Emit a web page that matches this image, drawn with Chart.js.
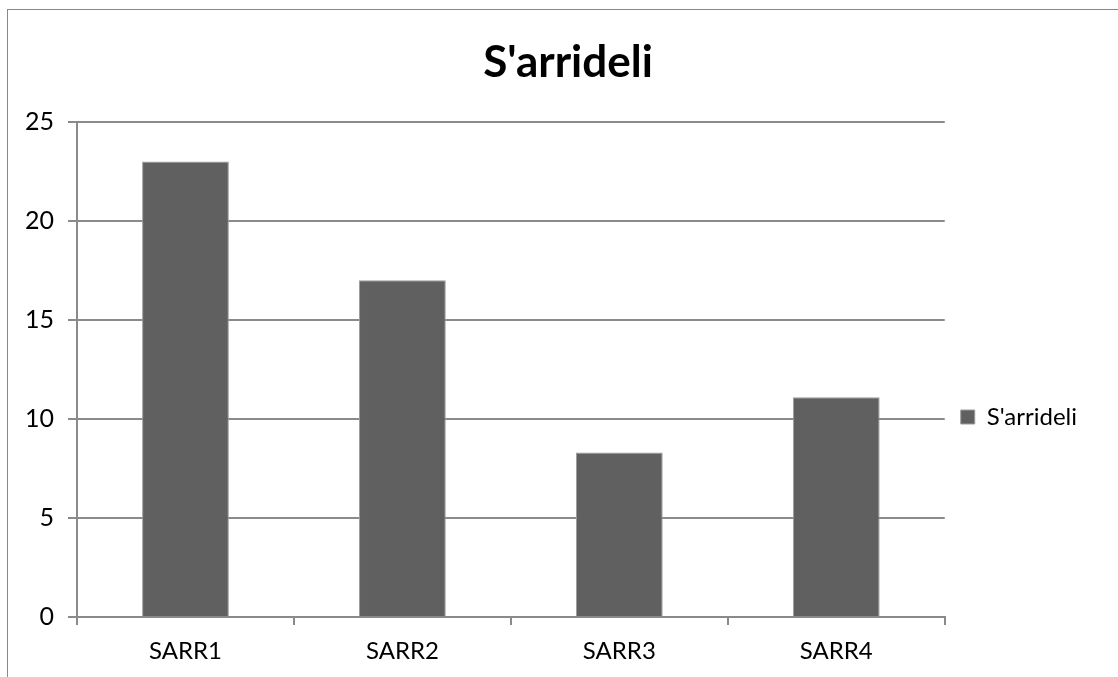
<!DOCTYPE html>
<html>
<head>
<meta charset="utf-8">
<title>S'arrideli</title>
<script src="https://cdn.jsdelivr.net/npm/chart.js@4.4.1/dist/chart.umd.min.js"></script>
<style>
  html, body { margin: 0; padding: 0; background: #fff; }
  #wrap { position: relative; width: 1118px; height: 677px; overflow: hidden; }
  /* outer chart frame, runs off the right and bottom edges */
  #frame { position: absolute; left: 7px; top: 9px; width: 1200px; height: 800px; border: 1.5px solid #898989; }
  #chart { position: absolute; left: 0; top: 0; }
</style>
</head>
<body>
<div id="wrap">
  <div id="frame"></div>
  <canvas id="chart" width="1118" height="677"></canvas>
</div>
<script>
// Data
const chartTitle = "S'arrideli";
const seriesName = "S'arrideli";
const categories = ['SARR1', 'SARR2', 'SARR3', 'SARR4'];
const values = [23, 17, 8.3, 11.1];
const yMin = 0;
const yMax = 25;
const yStep = 5;

const FONT = "Lato, 'Open Sans', sans-serif";
const GRID = '#8a8a8a';

// title sits centred over the full frame, not just the space left of the legend
const titleShift = {
    id: 'titleShift',
    afterLayout(chart) {
        if (chart.titleBlock) chart.titleBlock.left += 49;
    }
};

const ctx = document.getElementById('chart').getContext('2d');

new Chart(ctx, {
    type: 'bar',
    data: {
        labels: categories,
        datasets: [{
            label: seriesName,
            data: values,
            backgroundColor: '#606060',
            borderColor: '#9c9c9c',
            borderWidth: 1,
            barPercentage: 0.4,
            categoryPercentage: 1.0
        }]
    },
    plugins: [titleShift],
    options: {
        responsive: false,
        animation: false,
        layout: { padding: { left: 0, right: 31, top: 0, bottom: 0 } },
        plugins: {
            title: {
                display: true,
                text: chartTitle,
                color: '#000',
                font: { family: FONT, size: 44, weight: 'bold' },
                padding: { top: 36, bottom: 33 }
            },
            legend: {
                position: 'right',
                align: 'center',
                // empty legend title just pushes the entry down a bit
                title: {
                    display: true,
                    text: '',
                    font: { family: FONT, size: 10 },
                    padding: { top: 145, bottom: 0 }
                },
                labels: {
                    color: '#000',
                    font: { family: FONT, size: 24 },
                    boxWidth: 14,
                    boxHeight: 14,
                    padding: 16
                }
            },
            tooltip: { enabled: false }
        },
        scales: {
            x: {
                grid: {
                    display: true,
                    drawOnChartArea: false,
                    drawTicks: true,
                    tickLength: 8,
                    color: GRID,
                    lineWidth: 2,
                    offset: true
                },
                border: { display: true, color: GRID, width: 2 },
                ticks: {
                    color: '#000',
                    font: { family: FONT, size: 24 },
                    padding: 12
                },
                afterFit: (scale) => { scale.height = 60; }
            },
            y: {
                min: yMin,
                max: yMax,
                grid: {
                    color: GRID,
                    lineWidth: 2,
                    tickLength: 9
                },
                border: { display: true, color: GRID, width: 2 },
                ticks: {
                    stepSize: yStep,
                    color: '#000',
                    font: { family: FONT, size: 25 },
                    padding: 14
                },
                afterFit: (scale) => { scale.width = 77; }
            }
        }
    }
});
</script>
</body>
</html>
